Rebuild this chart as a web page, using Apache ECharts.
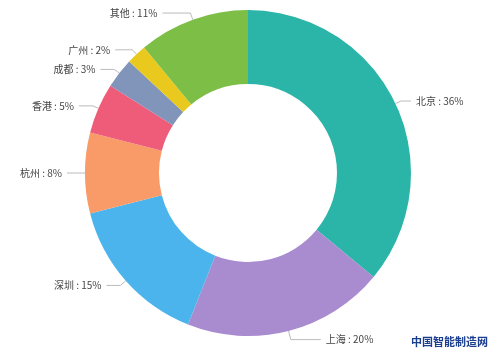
<!DOCTYPE html>
<html><head><meta charset="utf-8">
<script src="https://cdn.jsdelivr.net/npm/echarts@6/dist/echarts.min.js"></script>
<style>html,body{margin:0;padding:0;background:#fff}#c{width:495px;height:357px}</style>
</head><body><div id="c"></div>
<script>
const categories = ['北京','上海','深圳','杭州','香港','成都','广州','其他'];
const values = [36,20,15,8,5,3,2,11];
const colors = ['#2bb5a9','#a98bd0','#4bb4ec','#f89b68','#ef5c79','#8194ba','#e9c91d','#7dbe47'];
const lineLen = [6,9,7,6,6,6,6,7];
const lineLen2 = [10,30,14,12,14,14,17,28];
const chart = echarts.init(document.getElementById('c'));
chart.setOption({
  animation:false,
  backgroundColor:'#fff',
  series:[{
    type:'pie',
    center:[248,173],
    radius:[89,163],
    startAngle:90,
    clockwise:true,
    avoidLabelOverlap:true,
    data:categories.map((n,i)=>({name:n,value:values[i],itemStyle:{color:colors[i]},
      labelLine:{length:lineLen[i],length2:lineLen2[i]}})),
    label:{formatter:'{b} : {c}%',color:'#444',fontSize:10,fontFamily:'Noto Sans CJK SC'},
    labelLine:{lineStyle:{color:'#bbb',width:1}}
  }],
  graphic:[{type:'text',right:7,bottom:10,style:{text:'中国智能制造网',fill:'#1b3f8f',font:'bold 11px "Noto Sans CJK SC"'}}]
});
</script></body></html>
